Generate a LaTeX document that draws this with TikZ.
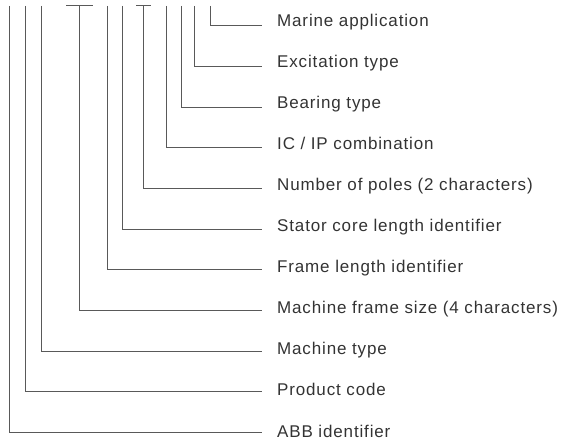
\documentclass[tikz,border=0pt]{standalone}
\usepackage{fontspec}
\setmainfont[LetterSpace=5]{Liberation Sans}
\begin{document}
\begin{tikzpicture}[x=1pt,y=-1pt,
  lead/.style={draw=black!65, line width=1pt},
  lbl/.style={anchor=base west, inner sep=0pt, text=black!80, font=\fontsize{17}{19}\selectfont}]
\useasboundingbox (0,0) rectangle (568,446);
\foreach \lab/\xx [count=\i from 0] in {
  {Marine application}/210,
  {Excitation type}/194,
  {Bearing type}/181,
  {IC / IP combination}/166,
  {Number of poles (2 characters)}/143,
  {Stator core length identifier}/122,
  {Frame length identifier}/107,
  {Machine frame size (4 characters)}/79,
  {Machine type}/41,
  {Product code}/25,
  {ABB identifier}/9}{
  \pgfmathsetmacro\ly{25.7+40.7*\i}
  \pgfmathsetmacro\ty{26.3+41.07*\i}
  \node[lbl] (t\i) at (277,\ty) {\lab};
  \coordinate (top\i) at (\xx,6);
  \coordinate (c\i) at (\xx,\ly);
  \coordinate (e\i) at (262,\ly);
  \draw[lead] (top\i) -- (c\i) -- (e\i);
}
\coordinate (b4l) at (136,6); \coordinate (b4r) at (151,6);
\coordinate (b7l) at (66,6); \coordinate (b7r) at (93,6);
\draw[lead] (b4l) -- (b4r);
\draw[lead] (b7l) -- (b7r);
\end{tikzpicture}
\end{document}
